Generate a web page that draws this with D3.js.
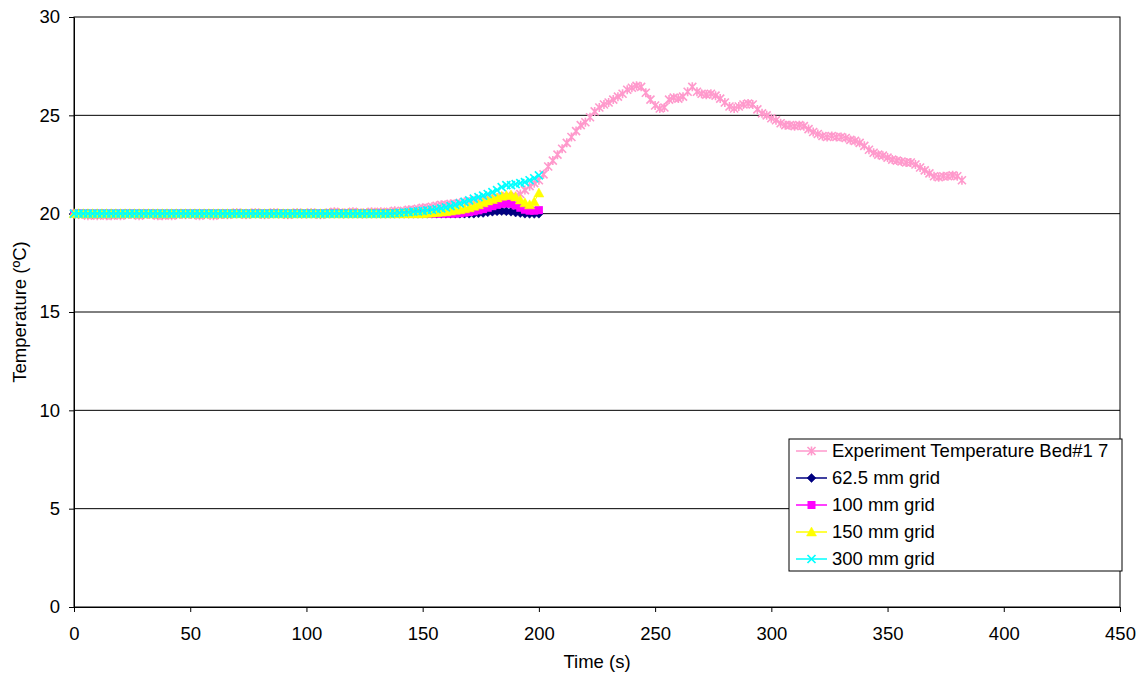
<!DOCTYPE html>
<html>
<head>
<meta charset="utf-8">
<script src="https://cdn.jsdelivr.net/npm/d3@7"></script>
<style>
  body { margin: 0; background: #fff; }
  text { font-family: "Liberation Sans", Arial, sans-serif; fill: #000; }
</style>
</head>
<body>
<svg id="chart" width="1142" height="677"></svg>
<script>
// Sampling interval (s) of the measured and simulated records
const expStep = 2;
const simStep = 2;

// Measured bed temperature (°C), one reading every expStep seconds from t = 0
const expTemp = [
  20.0,19.95,20.0,19.9,19.95,19.9,19.95,19.9,19.9,19.95,
  19.9,19.95,20.0,19.95,19.9,19.95,20.0,19.95,19.9,19.9,
  19.95,19.9,19.95,20.0,19.95,20.0,19.95,19.9,19.95,20.0,
  19.9,19.95,20.0,19.95,20.0,20.05,20.0,19.95,20.0,20.05,
  20.0,19.95,20.0,20.05,20.0,20.0,19.95,20.0,20.05,20.0,
  20.0,20.05,20.0,19.95,20.0,20.05,20.1,20.05,20.0,20.05,
  20.1,20.05,20.0,20.05,20.1,20.05,20.1,20.05,20.1,20.15,
  20.1,20.15,20.2,20.2,20.25,20.3,20.3,20.35,20.4,20.45,
  20.45,20.5,20.5,20.55,20.6,20.6,20.65,20.7,20.72,20.75,
  20.8,20.8,20.85,20.9,20.85,20.9,21.0,21.2,21.4,21.55,
  21.7,22.0,22.4,22.7,23.0,23.3,23.6,23.9,24.2,24.5,
  24.65,24.9,25.2,25.4,25.55,25.65,25.8,25.95,26.1,26.3,
  26.4,26.5,26.45,26.15,25.8,25.5,25.35,25.4,25.8,25.9,
  25.85,25.95,26.2,26.45,26.2,26.1,26.05,26.1,26.0,25.85,
  25.65,25.45,25.35,25.45,25.55,25.6,25.55,25.3,25.1,25.0,
  24.85,24.75,24.6,24.5,24.5,24.45,24.5,24.45,24.3,24.15,
  24.05,23.95,23.9,23.95,23.9,23.9,23.85,23.75,23.7,23.6,
  23.45,23.25,23.1,23.0,22.95,22.85,22.75,22.7,22.65,22.6,
  22.6,22.5,22.35,22.2,22.05,21.9,21.85,21.9,21.9,21.95,
  21.9,21.7
];

// Simulated temperature (°C) for each mesh size, every simStep seconds from t = 0
const grid625 = [
  20,20,20,20,20,20,20,20,20,20, 20,20,20,20,20,20,20,20,20,20,
  20,20,20,20,20,20,20,20,20,20, 20,20,20,20,20,20,20,20,20,20,
  20,20,20,20,20,20,20,20,20,20, 20,20,20,20,20,20,20,20,20,20,
  20,20,20,20,20,20,20,20,20,20, 20,20,20,20,20,20,20,20,20,20,
  20,20,20,20,20,20,20,
  20.02,20.04,20.07,20.1,20.12,20.13,20.12,20.1,20.06,20.03,20.0,19.99,19.99,20.0
];
const grid100 = [
  20,20,20,20,20,20,20,20,20,20, 20,20,20,20,20,20,20,20,20,20,
  20,20,20,20,20,20,20,20,20,20, 20,20,20,20,20,20,20,20,20,20,
  20,20,20,20,20,20,20,20,20,20, 20,20,20,20,20,20,20,20,20,20,
  20,20,20,20,20,20,20,20,20,20, 20,20,20,20,20,20,20,20,20,20,
  20,20,20,
  20.02,20.05,20.08,20.12,20.17,20.23,20.3,20.38,20.45,20.5,
  20.52,20.5,20.42,20.3,20.2,20.15,20.15,20.18
];
const grid150 = [
  20,20,20,20,20,20,20,20,20,20, 20,20,20,20,20,20,20,20,20,20,
  20,20,20,20,20,20,20,20,20,20, 20,20,20,20,20,20,20,20,20,20,
  20,20,20,20,20,20,20,20,20,20, 20,20,20,20,20,20,20,20,20,20,
  20,20,20,20,20,20,20,20,20,20, 20,20,20,20,20,20,
  20.02,20.04,20.06,20.08,20.1,20.13,20.17,20.2,20.25,20.3,
  20.38,20.45,20.55,20.65,20.72,20.8,20.88,20.93,20.95,20.85,
  20.7,20.55,20.45,20.6,21.05
];
const grid300 = [
  20,20,20,20,20,20,20,20,20,20, 20,20,20,20,20,20,20,20,20,20,
  20,20,20,20,20,20,20,20,20,20, 20,20,20,20,20,20,20,20,20,20,
  20,20,20,20,20,20,20,20,20,20, 20,20,20,20,20,20,20,20,20,20,
  20,20,20,20,20,20,20,20,20,
  20.02,20.04,20.06,20.08,20.1,20.12,20.14,20.17,20.2,20.23,
  20.27,20.32,20.38,20.45,20.52,20.6,20.68,20.76,20.84,20.92,
  21.0,21.1,21.2,21.35,21.45,21.45,21.5,21.55,21.6,21.7,
  21.8,21.95
];

const seriesNames = ["Experiment Temperature Bed#1 7", "62.5 mm grid", "100 mm grid", "150 mm grid", "300 mm grid"];
const seriesColors = ["#FF99CC", "#000080", "#FF00FF", "#FFFF00", "#00FFFF"];
const seriesMarkers = ["asterisk", "diamond", "square", "triangle", "cross"];

const xTicks = [0, 50, 100, 150, 200, 250, 300, 350, 400, 450];
const yTicks = [0, 5, 10, 15, 20, 25, 30];

const series = [
  { values: expTemp, step: expStep },
  { values: grid625, step: simStep },
  { values: grid100, step: simStep },
  { values: grid150, step: simStep },
  { values: grid300, step: simStep }
].map((s, i) => ({
  name: seriesNames[i],
  color: seriesColors[i],
  marker: seriesMarkers[i],
  points: s.values.map((v, k) => ({ t: k * s.step, v }))
}));

const svg = d3.select("#chart");
const plotL = 74, plotR = 1120, plotT = 17, plotB = 607;
const fontSize = "18.5px";

const x = d3.scaleLinear().domain([0, 450]).range([plotL, plotR]);
const y = d3.scaleLinear().domain([0, 30]).range([plotB, plotT]);

// Horizontal gridlines
svg.append("g")
  .selectAll("line")
  .data(yTicks.filter(d => d > 0 && d < 30))
  .join("line")
  .attr("x1", plotL).attr("x2", plotR)
  .attr("y1", d => y(d)).attr("y2", d => y(d))
  .attr("stroke", "#000").attr("stroke-width", 1);

// Plot-area frame
svg.append("rect")
  .attr("x", plotL).attr("y", plotT)
  .attr("width", plotR - plotL).attr("height", plotB - plotT)
  .attr("fill", "none").attr("stroke", "#000").attr("stroke-width", 1);

// Axes
const yAxis = svg.append("g")
  .attr("transform", `translate(${plotL},0)`)
  .call(d3.axisLeft(y).tickValues(yTicks).tickSize(5).tickSizeOuter(0).tickPadding(9));
const xAxis = svg.append("g")
  .attr("transform", `translate(0,${plotB})`)
  .call(d3.axisBottom(x).tickValues(xTicks).tickSize(5).tickSizeOuter(0).tickPadding(15));
[yAxis, xAxis].forEach(a => {
  a.select(".domain").attr("stroke", "#000");
  a.selectAll(".tick line").attr("stroke", "#000");
  a.selectAll(".tick text").style("font-size", fontSize).attr("fill", "#000")
    .style("font-family", '"Liberation Sans", Arial, sans-serif');
});

// Axis titles
svg.append("text")
  .attr("transform", `translate(26,312) rotate(-90)`)
  .attr("text-anchor", "middle")
  .style("font-size", fontSize)
  .text("Temperature (ºC)");
svg.append("text")
  .attr("x", 597).attr("y", 668)
  .attr("text-anchor", "middle")
  .style("font-size", fontSize)
  .text("Time (s)");

// Marker glyphs
function drawMarker(g, type, color) {
  if (type === "diamond") {
    g.append("path").attr("d", "M0,-4.5L4.5,0L0,4.5L-4.5,0Z").attr("fill", color).attr("stroke", color).attr("stroke-width", 0.5);
  } else if (type === "square") {
    g.append("rect").attr("x", -4).attr("y", -4).attr("width", 8).attr("height", 8).attr("fill", color);
  } else if (type === "triangle") {
    g.append("path").attr("d", "M0,-5L5,4L-5,4Z").attr("fill", color).attr("stroke", color).attr("stroke-width", 0.5);
  } else if (type === "cross") {
    g.append("path").attr("d", "M-4,-4L4,4M-4,4L4,-4").attr("stroke", color).attr("stroke-width", 1.7).attr("fill", "none");
  } else if (type === "asterisk") {
    g.append("path").attr("d", "M-4,-4L4,4M-4,4L4,-4M0,-4.5L0,4.5").attr("stroke", color).attr("stroke-width", 1.6).attr("fill", "none");
  }
}

const line = d3.line().x(d => x(d.t)).y(d => y(d.v));

series.forEach(s => {
  const g = svg.append("g");
  g.append("path").datum(s.points)
    .attr("d", line).attr("fill", "none")
    .attr("stroke", s.color).attr("stroke-width", 1);
  g.selectAll("g.m").data(s.points).join("g")
    .attr("class", "m")
    .attr("transform", d => `translate(${x(d.t)},${y(d.v)})`)
    .each(function () { drawMarker(d3.select(this), s.marker, s.color); });
});

// Legend
const lg = svg.append("g");
lg.append("rect")
  .attr("x", 789).attr("y", 439).attr("width", 333).attr("height", 132)
  .attr("fill", "#fff").attr("stroke", "#000").attr("stroke-width", 1);
series.forEach((s, i) => {
  const cy = 451 + i * 27;
  lg.append("line").attr("x1", 796).attr("x2", 827).attr("y1", cy).attr("y2", cy)
    .attr("stroke", s.color).attr("stroke-width", 1.5);
  drawMarker(lg.append("g").attr("transform", `translate(811.5,${cy})`), s.marker, s.color);
  lg.append("text").attr("x", 832).attr("y", cy).attr("dy", "0.35em")
    .style("font-size", fontSize).text(s.name);
});
</script>
</body>
</html>
